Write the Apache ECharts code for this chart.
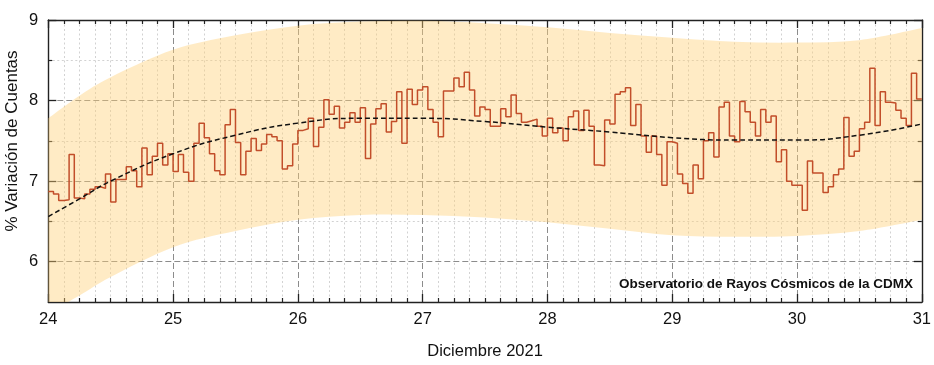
<!DOCTYPE html>
<html>
<head>
<meta charset="utf-8">
<script src="https://cdn.jsdelivr.net/npm/echarts@6/dist/echarts.min.js"></script>
<style>
html,body{margin:0;padding:0;background:#fff;}
#c{width:934px;height:365px;}
</style>
</head>
<body>
<div id="c"></div>
<script>
// Hourly cosmic-ray count variation (%), 24–31 Dec 2021 (one value per hour, 168 values)
const hourlyValues = [
  6.87, 6.84, 6.76, 6.77, 7.33, 6.79, 6.78, 6.84, 6.90, 6.93, 6.91, 7.09, 6.74, 7.02, 7.02, 7.18, 7.13, 6.93, 7.41, 7.08, 7.31, 7.47, 7.20, 7.34,
  7.12, 7.33, 7.11, 7.00, 7.47, 7.72, 7.54, 7.34, 7.13, 7.08, 7.70, 7.89, 7.48, 7.08, 7.37, 7.53, 7.38, 7.46, 7.58, 7.55, 7.50, 7.15, 7.19, 7.46,
  7.63, 7.65, 7.78, 7.43, 7.67, 8.01, 7.83, 7.93, 7.66, 7.73, 7.85, 7.73, 7.91, 7.28, 7.71, 7.90, 7.96, 7.61, 7.74, 8.11, 7.47, 8.14, 7.95, 8.13,
  8.17, 7.89, 7.73, 7.55, 8.12, 8.12, 8.28, 8.17, 8.35, 8.13, 7.81, 7.92, 7.89, 7.68, 7.68, 7.90, 7.80, 8.07, 7.84, 7.73, 7.75, 7.77, 7.68, 7.56,
  7.78, 7.60, 7.66, 7.50, 7.80, 7.87, 7.63, 7.88, 7.68, 7.20, 7.19, 7.76, 7.71, 8.08, 8.11, 8.16, 7.69, 7.95, 7.56, 7.36, 7.56, 7.33, 6.95, 7.49,
  7.47, 7.09, 6.97, 6.85, 7.20, 7.03, 7.50, 7.60, 7.30, 7.92, 7.98, 7.56, 7.49, 7.99, 7.86, 7.73, 7.56, 7.89, 7.73, 7.81, 7.24, 7.39, 7.00, 6.95,
  6.95, 6.64, 7.25, 7.10, 7.10, 6.86, 6.93, 7.08, 7.15, 7.79, 7.31, 7.37, 7.65, 7.73, 8.40, 7.69, 8.11, 7.98, 7.97, 7.88, 7.78, 7.69, 8.34, 8.02
];
const startDay = 24;
const endDay = 31;

// Trend curve and confidence band sampled along the days
const curveDays  = [24, 24.25, 24.5, 25, 25.5, 26, 26.5, 27, 27.5, 28, 28.5, 29, 29.5, 30, 30.5, 31];
const trendVals  = [6.56, 6.78, 7.00, 7.34, 7.57, 7.72, 7.78, 7.78, 7.74, 7.67, 7.61, 7.54, 7.51, 7.51, 7.57, 7.71];
const upperVals  = [7.78, 8.06, 8.29, 8.63, 8.81, 8.93, 8.98, 8.99, 8.96, 8.91, 8.84, 8.78, 8.73, 8.72, 8.75, 8.90];
const lowerVals  = [5.36, 5.58, 5.81, 6.18, 6.38, 6.52, 6.58, 6.58, 6.55, 6.49, 6.41, 6.33, 6.31, 6.32, 6.38, 6.52];

const xTicks = [24, 25, 26, 27, 28, 29, 30, 31];
const yMajorTicks = [6, 7, 8, 9];
const yMinorTicks = [6.5, 7.5, 8.5];

const xAxisTitle = 'Diciembre 2021';
const yAxisTitle = '% Variación de Cuentas';
const noteText = 'Observatorio de Rayos Cósmicos de la CDMX';

// ---------- build ----------
const FONT = '"Liberation Sans", Arial, sans-serif';
const frameColor = '#222';
const majorGrid = {color: '#8c8c8c', type: [6, 3], width: 1};
const minorGrid = {color: '#d2d2d2', type: [2, 2.5], width: 1};

const stepData = hourlyValues.map((v, i) => [startDay + i / 24, v]);
stepData.push([endDay, hourlyValues[hourlyValues.length - 1]]);
const trendData = curveDays.map((d, i) => [d, trendVals[i]]);

function splinePath(pts) {
  let d = '';
  const n = pts.length;
  for (let i = 0; i < n - 1; i++) {
    const p0 = pts[Math.max(i - 1, 0)], p1 = pts[i], p2 = pts[i + 1], p3 = pts[Math.min(i + 2, n - 1)];
    const c1 = [p1[0] + (p2[0] - p0[0]) / 6, p1[1] + (p2[1] - p0[1]) / 6];
    const c2 = [p2[0] - (p3[0] - p1[0]) / 6, p2[1] - (p3[1] - p1[1]) / 6];
    d += 'C' + c1[0] + ',' + c1[1] + ' ' + c2[0] + ',' + c2[1] + ' ' + p2[0] + ',' + p2[1];
  }
  return d;
}

const chart = echarts.init(document.getElementById('c'), null, {renderer: 'canvas'});

function xAxisDef(pos, main) {
  return {
    type: 'value', min: startDay, max: endDay, interval: 1, position: pos,
    axisLine: {show: true, onZero: false, lineStyle: {color: frameColor, width: 1.4}},
    axisTick: {show: true, inside: true, length: 8, lineStyle: {color: frameColor, width: 1.3}},
    minorTick: {show: true, splitNumber: 8, length: 4, lineStyle: {color: frameColor, width: 1.2}},
    axisLabel: main ? {show: true, fontSize: 16.5, color: '#111', margin: 9, fontFamily: FONT,
      formatter: v => xTicks.includes(v) ? String(v) : ''} : {show: false},
    splitLine: main ? {show: true, lineStyle: majorGrid} : {show: false},
    minorSplitLine: main ? {show: true, lineStyle: minorGrid} : {show: false},
    name: main ? xAxisTitle : '', nameLocation: 'middle', nameGap: 41,
    nameTextStyle: {fontSize: 16.5, color: '#111', fontFamily: FONT}
  };
}
function yMajor(pos, main) {
  return {
    type: 'value', min: 5.5, max: 9, position: pos,
    axisLine: {show: true, onZero: false, lineStyle: {color: frameColor, width: 1.4}},
    axisTick: {show: true, inside: true, length: 8, customValues: yMajorTicks, lineStyle: {color: frameColor, width: 1.3}},
    axisLabel: main ? {show: true, fontSize: 16.5, color: '#111', margin: 10, fontFamily: FONT,
      customValues: yMajorTicks} : {show: false},
    splitLine: main ? {show: true, lineStyle: majorGrid} : {show: false}
  };
}
function yMinor(pos, main) {
  return {
    type: 'value', min: 5.5, max: 9, position: pos,
    axisLine: {show: false},
    axisTick: {show: true, inside: true, length: 4, customValues: yMinorTicks, lineStyle: {color: frameColor, width: 1.2}},
    axisLabel: {show: false},
    splitLine: main ? {show: true, lineStyle: minorGrid} : {show: false}
  };
}

chart.setOption({
  animation: false,
  backgroundColor: '#fff',
  grid: {left: 48.3, right: 11.5, top: 20, bottom: 62.7, containLabel: false},
  xAxis: [xAxisDef('bottom', true), xAxisDef('top', false)],
  yAxis: [yMajor('left', true), yMinor('left', true), yMajor('right', false), yMinor('right', false)],
  series: [
    {
      type: 'custom', name: 'band', coordinateSystem: 'cartesian2d', clip: true, silent: true, z: 1,
      data: curveDays.map((d, i) => [d, upperVals[i], lowerVals[i]]),
      encode: {x: 0, y: [1, 2]},
      renderItem: function (params, api) {
        if (params.dataIndex !== 0) return null;
        const up = curveDays.map((d, i) => api.coord([d, upperVals[i]]));
        const lo = curveDays.map((d, i) => api.coord([d, lowerVals[i]])).reverse();
        const pathData = 'M' + up[0][0] + ',' + up[0][1] + splinePath(up) +
          'L' + lo[0][0] + ',' + lo[0][1] + splinePath(lo) + 'Z';
        return {type: 'path', shape: {pathData: pathData}, style: {fill: 'rgba(255,207,117,0.42)', stroke: null}};
      }
    },
    {type: 'line', name: 'counts', step: 'end', symbol: 'none', data: stepData,
      lineStyle: {color: '#c24e2a', width: 1.5}, z: 3},
    {type: 'line', name: 'trend', smooth: true, symbol: 'none', data: trendData,
      lineStyle: {color: '#111', width: 1.5, type: [5, 3]}, z: 4}
  ],
  graphic: [
    {type: 'text', x: 913, y: 284, z: 10, silent: true,
      style: {text: noteText, font: 'bold 13.5px ' + FONT, fill: '#111', align: 'right', verticalAlign: 'middle'}},
    {type: 'text', x: 12, y: 141, rotation: Math.PI / 2, z: 10, silent: true,
      style: {text: yAxisTitle, font: '17px ' + FONT, fill: '#111', align: 'center', verticalAlign: 'middle'}}
  ]
});
</script>
</body>
</html>
